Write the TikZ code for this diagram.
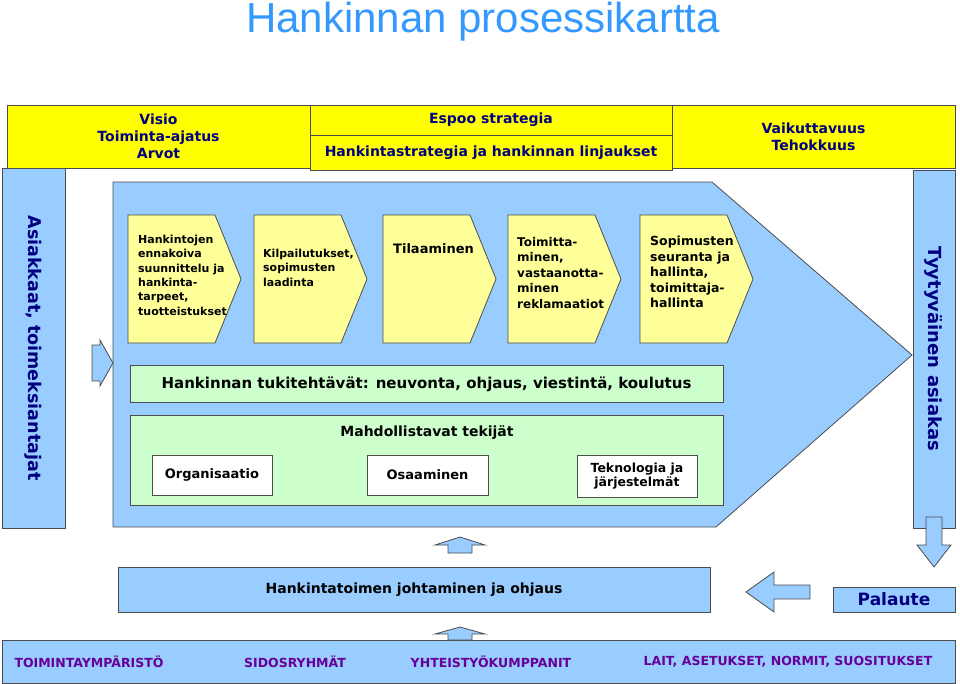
\documentclass[tikz,border=0pt]{standalone}
\usepackage{fontspec}
\setmainfont{DejaVu Sans}
\newfontfamily\titlefont{Liberation Sans}
\definecolor{lblue}{HTML}{99CCFF}
\definecolor{lyel}{HTML}{FFFF99}
\definecolor{byel}{HTML}{FFFF00}
\definecolor{lgreen}{HTML}{CCFFCC}
\definecolor{ttl}{HTML}{3399FF}
\definecolor{navy}{HTML}{000080}
\definecolor{purp}{HTML}{660099}
\tikzset{
 bx/.style={draw=black!70, line width=0.8pt},
 tb/.style={bx, fill=byel, font=\bfseries\fontsize{14}{17}\selectfont, text=navy, align=center},
 chev/.style={bx, fill=lyel},
 ctext/.style={font=\bfseries\fontsize{11.5}{13.5}\selectfont, align=left, anchor=north west, inner sep=0pt},
 wbox/.style={bx, fill=white, font=\bfseries\fontsize{13}{15}\selectfont, align=center},
 barr/.style={bx, fill=lblue},
 env/.style={font=\bfseries\fontsize{12.5}{14}\selectfont, text=purp},
}
\begin{document}
\begin{tikzpicture}[x=1pt,y=-1pt]
\useasboundingbox (0,0) rectangle (960,683);
\node[font=\titlefont\fontsize{42}{46}\selectfont, text=ttl] (title) at (483,22) {Hankinnan prosessikartta};
% top row
\node[tb, minimum width=303, minimum height=63] (visio) at (158.5,136.5) {Visio\\Toiminta-ajatus\\Arvot};
\node[tb, minimum width=362, minimum height=30] (espoo) at (491,120) {Espoo strategia};
\node[tb, minimum width=362, minimum height=35] (hstrat) at (491,152.5) {Hankintastrategia ja hankinnan linjaukset};
\node[tb, minimum width=283, minimum height=63] (vaik) at (813.5,136.5) {Vaikuttavuus\\Tehokkuus};
% side columns
\node[barr, minimum width=63, minimum height=360] (left) at (33.5,348) {};
\node[rotate=-90, font=\bfseries\fontsize{17.5}{19}\selectfont, text=navy] (lefttxt) at (left.center) {Asiakkaat, toimeksiantajat};
\node[barr, minimum width=42, minimum height=358] (right) at (934,349) {};
\node[rotate=-90, font=\bfseries\fontsize{18}{20}\selectfont, text=navy] (righttxt) at (right.center) {Tyytyväinen asiakas};
% big arrow
\draw[barr] (113,182) -- (712,182) -- (912,355) -- (716,527) -- (113,527) -- cycle;
% left arrow
\draw[barr] (92,345) -- (100,345) -- (100,340) -- (113,363) -- (100,386) -- (100,381) -- (92,381) -- cycle;
% chevrons
\foreach \n/\x in {c1/128,c2/254,c3/383,c4/508,c5/640}{
 \draw[chev] (\x,215) -- (\x+87,215) -- (\x+113,279) -- (\x+87,343) -- (\x,343) -- cycle;
}
\node[ctext, font=\bfseries\fontsize{11}{14.3}\selectfont] (t1) at (138,235) {Hankintojen\\ennakoiva\\suunnittelu ja\\hankinta-\\tarpeet,\\tuotteistukset};
\node[ctext, font=\bfseries\fontsize{11}{14.3}\selectfont] (t2) at (263,249) {Kilpailutukset,\\sopimusten\\laadinta};
\node[ctext, font=\bfseries\fontsize{13}{15}\selectfont] (t3) at (393,243) {Tilaaminen};
\node[ctext, font=\bfseries\fontsize{12}{15.5}\selectfont] (t4) at (517,237) {Toimitta-\\minen,\\vastaanotta-\\minen\\reklamaatiot};
\node[ctext, font=\bfseries\fontsize{12.5}{15.5}\selectfont] (t5) at (650,236) {Sopimusten\\seuranta ja\\hallinta,\\toimittaja-\\hallinta};
% green bars
\node[bx, fill=lgreen, minimum width=593, minimum height=37, font=\bfseries\fontsize{15}{17}\selectfont] (tuki) at (426.5,384) {Hankinnan tukitehtävät: neuvonta, ohjaus, viestintä, koulutus};
\node[bx, fill=lgreen, minimum width=593, minimum height=90] (mahd) at (426.5,460) {};
\node[font=\bfseries\fontsize{14}{16}\selectfont] (mtxt) at (427,433) {Mahdollistavat tekijät};
\node[wbox, minimum width=120, minimum height=40] (org) at (212,475) {Organisaatio};
\node[wbox, minimum width=121, minimum height=40] (osa) at (427.5,475) {Osaaminen};
\node[wbox, minimum width=120, minimum height=42, font=\bfseries\fontsize{12.5}{14}\selectfont] (tek) at (637,476) {Teknologia ja\\järjestelmät};
% bottom
\node[barr, minimum width=592, minimum height=45, font=\bfseries\fontsize{14}{16}\selectfont] (johto) at (414,589.5) {Hankintatoimen johtaminen ja ohjaus};
\node[barr, minimum width=122, minimum height=25, font=\bfseries\fontsize{17}{19}\selectfont, text=navy] (pal) at (894,599.5) {Palaute};
\node[barr, minimum width=953, minimum height=43, inner sep=0pt] (env) at (478.5,661.5) {};
\node[env] (e1) at (89,662) {TOIMINTAYMPÄRISTÖ};
\node[env] (e2) at (295,662) {SIDOSRYHMÄT};
\node[env] (e3) at (491,662) {YHTEISTYÖKUMPPANIT};
\node[env] (e4) at (788,662) {LAIT, ASETUKSET, NORMIT, SUOSITUKSET};
% small arrows
\draw[barr] (448,553) -- (472,553) -- (472,545) -- (485,545) -- (460,537) -- (435,545) -- (448,545) -- cycle;
\draw[barr] (448,640) -- (472,640) -- (472,634) -- (485,634) -- (460,627) -- (435,634) -- (448,634) -- cycle;
\draw[barr] (926,517) -- (942,517) -- (942,545) -- (951,545) -- (934,567) -- (917,545) -- (926,545) -- cycle;
\draw[barr] (810,585) -- (774,585) -- (774,572) -- (746,592) -- (774,612) -- (774,599) -- (810,599) -- cycle;
\end{tikzpicture}
\end{document}
